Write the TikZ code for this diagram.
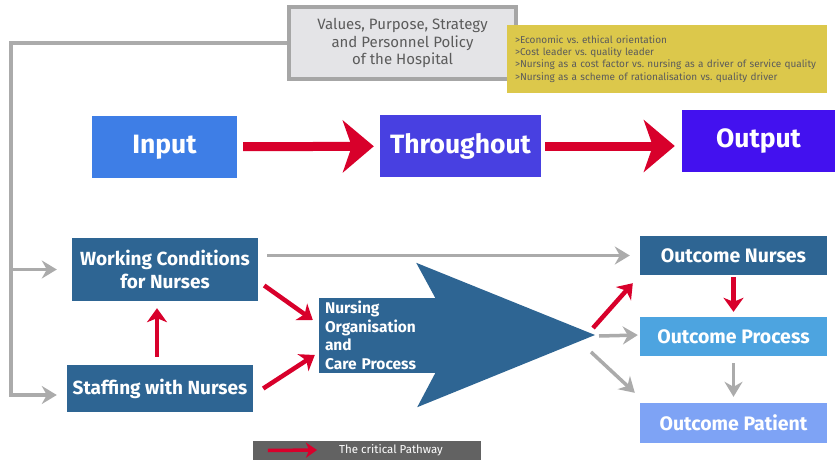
\documentclass[tikz,border=0pt]{standalone}
\usepackage{fontspec}
\setmainfont{Fira Sans}
\usetikzlibrary{arrows.meta}
\frenchspacing

\definecolor{inblue}{HTML}{3E7EE6}
\definecolor{midblue}{HTML}{4840E1}
\definecolor{outblue}{HTML}{4311EF}
\definecolor{deepblue}{HTML}{2E6593}
\definecolor{skyblue}{HTML}{4DA4E0}
\definecolor{paleblue}{HTML}{7EA3F5}
\definecolor{critred}{HTML}{D8002B}
\definecolor{linegray}{HTML}{ABABAB}
\definecolor{panelgray}{HTML}{E4E4E7}
\definecolor{framegray}{HTML}{A6A6A6}
\definecolor{mustard}{HTML}{DCC84B}
\definecolor{keygray}{HTML}{626262}
\definecolor{textgray}{HTML}{5B5B5B}

\tikzset{
  box/.style={fill=deepblue, text=white, align=center, inner sep=0pt,
    font=\bfseries\fontsize{19}{22.5}\selectfont},
  topbox/.style={box, minimum height=62pt, font=\bfseries\fontsize{26.5}{30}\selectfont},
  outbox/.style={box, minimum width=187pt, minimum height=39pt, font=\bfseries\fontsize{19.5}{22}\selectfont},
  grayline/.style={draw=linegray, line width=3.5pt},
  grayarrow/.style={grayline, -{Stealth[length=15pt,width=18pt,inset=5pt]}},
  redarrow/.style={draw=critred, line width=4.5pt, -{Stealth[length=14pt,width=20pt,inset=4pt]}},
  bigarrow/.style={draw=critred, line width=9pt, -{Stealth[length=31pt,width=52pt,inset=9pt]}},
}

\begin{document}
\begin{tikzpicture}[x=1pt, y=-1pt]
  \useasboundingbox (0,0) rectangle (835,460);

  % hospital level
  \node[draw=framegray, line width=3.5pt, fill=panelgray, minimum width=227pt, minimum height=72pt,
    text=textgray, align=center, font=\fontsize{15}{17.5}\selectfont] (values) at (402.5,43)
    {Values, Purpose, Strategy\\and Personnel Policy\\of the Hospital};
  \node[fill=mustard, text=textgray, minimum height=68pt, text width=304pt, inner xsep=8pt,
    align=left, font=\fontsize{10}{12.3}\selectfont] (goals) at (667,59)
    {>Economic vs. ethical orientation\\
     >Cost leader vs. quality leader\\
     >Nursing as a cost factor vs. nursing as a driver of service quality\\
     >Nursing as a scheme of rationalisation vs. quality driver};

  % input - throughput - output
  \node[topbox, fill=inblue, minimum width=145pt] (input) at (164.5,147) {Input};
  \node[topbox, fill=midblue, minimum width=161pt] (through) at (460.5,146) {Throughout};
  \node[topbox, fill=outblue, minimum width=153pt] (output) at (758.5,141) {Output};
  \draw[bigarrow, shorten <=6pt, shorten >=6pt] (input) -- (through);
  \draw[bigarrow, shorten <=4pt, shorten >=7pt] (through.east) -- (output.west |- through.east);

  % nursing model
  \node[box, minimum width=186pt, minimum height=63pt] (working) at (165,269.5) {Working Conditions\\for Nurses};
  \node[box, minimum width=186pt, minimum height=47pt] (staffing) at (160,388.5) {Staffing with Nurses};
  \node[box, minimum height=75pt, text width=104pt, inner xsep=6pt, align=left,
    font=\bfseries\fontsize{15.5}{18.5}\selectfont] (nursing) at (377,335.5)
    {Nursing\\Organisation\\and\\Care Process};
  \coordinate (tip) at (595,335);
  \fill[deepblue] (nursing.north east) -- ++(-19,-35) -- (tip)
    -- ([shift={(-18,34)}]nursing.south east) -- (nursing.south east) -- cycle;

  \node[outbox] (onurse) at (733.5,255.5) {Outcome Nurses};
  \node[outbox, fill=skyblue] (oproc) at (733.5,336.5) {Outcome Process};
  \node[outbox, fill=paleblue, minimum height=40pt] (opat) at (733.5,423) {Outcome Patient};

  % gray influences
  \coordinate (spine) at (11,395);
  \draw[grayarrow, shorten >=10pt] (values.west) -| (spine) -- (spine -| staffing.west);
  \draw[grayarrow, shorten >=15pt] (spine |- working.west) -- (working.west);
  \draw[grayarrow, shorten <=9pt, shorten >=10pt] (working.east |- onurse.west) -- (onurse.west);
  \draw[grayarrow, shorten >=2pt] ([shift={(4,1)}]tip) -- (tip -| oproc.west);
  \draw[grayarrow] ([shift={(-4,17)}]tip) -- ([shift={(-5,-10)}]opat.north west);
  \draw[grayarrow, shorten <=7pt, shorten >=6pt] (oproc.south) -- (opat.north);

  % critical pathway
  \draw[redarrow] ([shift={(-3,-8)}]staffing.north) -- ([shift={(-8,7)}]working.south);
  \draw[redarrow] ([shift={(6,16)}]working.east) -- ([shift={(-6,-15.5)}]nursing.west);
  \draw[redarrow] ([shift={(10,0)}]staffing.east) -- ([shift={(-4,19.5)}]nursing.west);
  \draw[redarrow] ([shift={(-2,-7)}]tip) -- ([shift={(-7,8)}]onurse.south west);
  \draw[redarrow, shorten <=2pt, shorten >=5pt] (onurse.south) -- (oproc.north);

  % key
  \node[fill=keygray, minimum width=228pt, minimum height=19pt, inner sep=0pt] (legend) at (367,450.5) {};
  \node[text=white, inner sep=0pt, font=\fontsize{11.5}{13}\selectfont] (keytext) at (391,450) {The critical Pathway};
  \draw[draw=critred, line width=3.5pt, -{Stealth[length=11pt,width=15pt,inset=3pt]}]
    ([xshift=15pt]legend.west) -- ([xshift=-22pt]keytext.west);
\end{tikzpicture}
\end{document}
